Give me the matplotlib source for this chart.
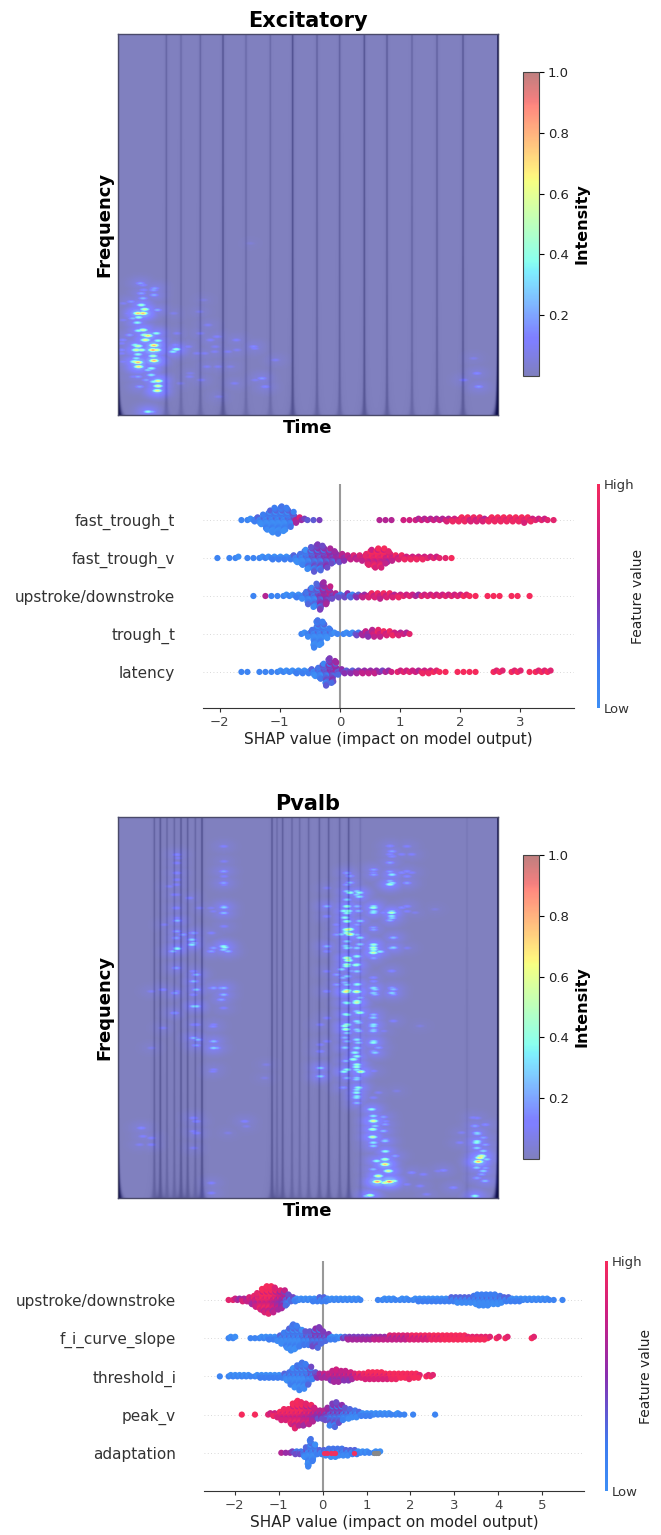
import numpy as np
import matplotlib
matplotlib.use("Agg")
import matplotlib.pyplot as plt
from matplotlib.colors import LinearSegmentedColormap, Normalize
from matplotlib.cm import ScalarMappable

W, H = 661, 1535

# spectrogram dark lines: time (0-1140 across the axes) and depth
ex_line_t = [145, 189, 247, 315, 384, 457, 524, 597, 665, 739, 807, 882, 957, 1035]
ex_line_d = [.3, .25, .3, .5, .25, .25, .55, .35, .35, .5, .4, .3, .35, .45]
pv_line_t = [109, 127, 147, 169, 189, 209, 232, 252, 462, 477, 494, 522, 545, 572, 604, 632, 665, 692, 727, 1047]
pv_line_d = [.35, .45, .3, .3, .45, .4, .3, .55, .45, .25, .4, .3, .25, .3, .35, .4, .3, .45, .15, .1]

ex_spots_a = [
    (75,130,.78),(60,130,.75),(80,118,.55),(70,105,.45),(62,142,.42),(58,158,.38),
    (75,180,.55),(62,182,.4),(90,197,.72),(82,210,.65),(80,195,.5),
    (60,228,.55),(55,240,.6),(70,240,.5),(60,253,.4),(60,277,.8),(50,275,.55),(62,290,.7),(55,265,.35),(52,225,.4),
    (108,226,.8),(105,240,.85),(115,240,.65),(108,272,.8),(105,258,.5),(115,190,.4),(120,212,.4),(100,295,.4),(100,315,.35),
    (120,333,.65),(120,348,.6),(118,362,.65),(108,335,.4),
    (118,120,.22),(75,85,.25),(70,70,.2),(110,55,.2),(75,45,.15),(108,75,.22),
    (40,95,.18),(30,130,.12),(15,210,.15),(12,240,.15),(35,195,.2),(45,145,.25),
    (65,350,.2),(85,330,.2),(90,300,.3),(60,320,.2),(90,425,.4),(100,425,.25),
    (175,238,.45),(165,245,.35),(172,225,.15),
    (270,165,.1),(245,125,.08),(300,200,.1),(290,245,.1),(355,210,.12),(330,245,.1),(210,230,.12),(215,320,.1),
    (410,235,.12),(430,325,.12),(440,350,.08),(350,340,.1),(260,250,.1),(300,290,.1),(250,330,.1),
]
ex_spots_b = [
    (360,1020,.12),(380,1010,.12),(490,1040,.15),(515,1135,.18),(525,1160,.15),(1160,1120,.15),(1165,1160,.18),
    (1120,1140,.12),(1150,1075,.08),(440,1050,.1),(555,1080,.1),(480,730,.04),
    (100,910,.1),(125,905,.12),(100,960,.1),(95,1030,.12),(95,1060,.12),(100,1085,.12),(130,1130,.12),(150,850,.2),
    (190,870,.2),(160,870,.15),(250,940,.08),(260,1000,.1),(340,900,.06),(330,1000,.1),(375,1040,.1),(320,1060,.1),
    (350,1100,.1),(385,1190,.08),(300,1120,.08),(270,1150,.08),(420,1100,.08),(495,1140,.1),
]
pv_spots_low = [
    (100,330,.62),(100,315,.35),(95,295,.4),(105,345,.3),(98,355,.5),(98,378,.55),(100,395,.35),(100,405,.3),
    (130,318,.2),(135,340,.2),(130,360,.25),(135,390,.3),
    (135,445,.5),(135,460,.75),(110,450,.4),(145,480,.6),(115,495,.6),(112,512,.85),(148,512,.92),(135,515,.6),
    (160,510,.5),(90,553,.5),(80,555,.3),(100,475,.25),(165,435,.2),
    (420,440,.7),(415,452,.8),(425,435,.6),(410,395,.4),(412,368,.3),(430,380,.2),(405,345,.2),(430,420,.3),
    (430,480,.3),(425,490,.2),(410,470,.3),(435,510,.25),(405,555,.4),(440,445,.3),(400,320,.12),(360,395,.12),(365,365,.1),
    (215,485,.15),(250,490,.12),(310,478,.15),(200,520,.12),(240,525,.12),(340,530,.15),(260,550,.1),(295,480,.1),
    (15,45,.45),(18,55,.5),(58,5,.45),(55,35,.3),(55,60,.3),(55,95,.3),(45,125,.4),(40,145,.45),(50,168,.45),
    (62,182,.55),(12,182,.4),(18,150,.25),(15,110,.3),(15,80,.25),(50,205,.3),(55,230,.42),(50,245,.4),(50,260,.35),(10,230,.18),
    (100,20,.3),(100,45,.35),(100,60,.3),(100,95,.4),(105,125,.3),(115,110,.2),(100,180,.12),(100,260,.12),(115,245,.1),
    (160,30,.12),(130,60,.1),(240,45,.06),(170,240,.07),
]
pv_spots_mid = [
    (30,135,.2),(30,155,.25),(30,185,.42),(58,185,.4),(58,197,.35),(25,240,.42),(12,240,.4),(15,260,.4),
    (28,295,.6),(30,310,.62),(20,300,.4),(60,270,.3),(55,240,.25),(5,310,.3),(60,320,.35),(30,350,.25),(60,340,.3),(18,345,.3),
    (25,388,.55),(50,375,.3),(48,402,.45),(20,405,.45),(5,415,.3),(35,420,.2),
    (18,482,.68),(50,482,.6),(15,455,.25),(52,460,.4),(50,515,.55),(18,515,.35),(60,545,.45),(18,550,.4),(10,440,.25),(60,500,.25),
    (100,230,.45),(100,245,.35),(100,350,.5),(100,365,.55),(120,362,.35),(155,245,.5),(155,255,.35),(150,268,.25),(160,350,.3),
    (150,150,.25),(150,160,.45),(150,122,.2),(150,95,.2),(150,70,.15),(150,45,.15),(185,125,.15),(215,125,.12),(185,70,.12),(215,70,.12),
    (185,230,.15),(100,125,.15),(100,290,.2),(130,245,.15),(160,320,.25),(105,475,.3),(105,490,.25),(160,475,.25),(160,490,.2),
    (100,555,.2),(100,440,.15),(155,420,.15),(285,235,.06),(225,245,.08),
]
pv_spots_left = [
    (178,392,.38),(165,400,.25),(178,308,.25),(175,360,.2),(195,350,.2),(222,365,.3),(222,380,.35),(222,345,.15),
    (175,270,.15),(170,230,.12),(175,200,.12),(175,165,.12),(180,120,.1),(155,205,.1),(215,240,.12),(140,320,.1),(245,270,.1),
    (318,268,.3),(318,285,.25),(320,388,.4),(330,400,.25),(280,400,.2),(280,345,.12),(318,325,.12),(318,160,.18),(318,175,.12),
    (318,200,.12),(318,130,.1),(318,85,.08),(280,270,.1),
    (175,450,.2),(235,470,.25),(235,515,.28),(230,490,.2),(172,525,.2),(135,515,.15),(235,565,.32),(170,585,.18),(310,545,.2),
    (310,510,.2),(280,510,.12),(285,625,.15),(295,690,.22),(285,670,.18),(285,760,.12),(240,665,.25),(235,682,.2),(235,620,.15),
    (135,630,.1),(100,690,.08),(100,520,.1),
    (70,930,.15),(75,955,.12),(100,960,.12),(100,980,.12),(235,910,.15),(235,945,.15),(380,910,.13),(385,925,.08),
    (445,740,.07),(440,780,.07),(280,1095,.12),(280,1125,.12),(65,980,.1),(330,945,.07),
]
# more Pvalb bars, per time column: x, then heights and intensities
pv_columns = [
    (770, [265,300,320,345,365,385,410,435,445,470,490,520,540,575,600,618,655,690,720,745,770,855,880],
          [.2,.2,.3,.3,.45,.4,.45,.6,.5,.3,.35,.55,.5,.3,.3,.6,.4,.4,.45,.3,.25,.4,.25]),
    (800, [320,330,365,420,450,490,515,540,560,600,620,650,680,710,735,765,790,815,840,855,880,915,935,955],
          [.3,.3,.25,.2,.25,.3,.4,.4,.3,.35,.4,.5,.3,.35,.3,.35,.35,.4,.45,.35,.3,.35,.35,.25]),
    (850, [255,270,365,380,435,480,495,520,590,610,625,690,720,735,770,800],
          [.2,.2,.35,.35,.2,.45,.45,.2,.15,.35,.3,.25,.35,.25,.35,.2]),
    (905, [200,215,270,295,380,400,490,610,625], [.2,.15,.35,.35,.3,.3,.25,.2,.3]),
    (950, [185,260,275,295,365,380,490], [.12,.15,.15,.2,.15,.12,.1]),
    (710, [310,365,395,485,500,560,620,700,770], [.1,.25,.15,.25,.15,.12,.15,.12,.12]),
    (690, [720,780,800,850,875], [.12,.12,.15,.3,.3]),
    (740, [420,450,570,600], [.15,.2,.2,.2]),
    (260, [210,235,265,285,330,400,440,490,550,620], [.15,.12,.15,.12,.1,.12,.2,.3,.12,.12]),
    (310, [445,475,560,590,630,665,720,760,1000,1040,1090], [.2,.25,.15,.25,.15,.3,.12,.25,.15,.12,.1]),
    (400, [185,260,295,365,385,485,495,610,630,670], [.12,.2,.2,.2,.25,.4,.3,.25,.25,.12]),
    (370, [380,490,610,720,770,790,855], [.1,.2,.2,.12,.25,.3,.12]),
    (885, [1010,1065,1100], [.15,.2,.4]),
    (1160, [1000,1045,1070,1090,1180], [.12,.3,.4,.3,.2]),
    (1185, [1020,1080,1150], [.15,.2,.2]),
]

# beeswarm rows: points per 0.1 wide SHAP bin, and feature value 0-9 of each bin
ex_features = ["fast_trough_t", "fast_trough_v", "upstroke/downstroke", "trough_t", "latency"]
ex_bin_start = -2.1
ex_counts = [
    [0,0,0,0,0,1,2,4,8,15,  19,21,18,12,5,2,1,1,1,0,  0,0,0,0,0,0,0,0,1,1,  1,0,1,1,2,2,2,2,2,3,
     3,4,4,4,4,3,4,4,4,4,  4,4,5,3,2,2,1,1,0,0],
    [0,1,0,1,2,0,1,1,2,2,  3,3,3,4,7,12,17,21,19,15,  10,7,5,4,4,6,12,15,15,10,  5,4,3,3,3,3,2,2,1,1,
     1,0,0,0,0,0,0,0,0,0,  0,0,0,0,0,0,0,0,0,0],
    [0,0,0,0,0,0,0,1,0,1,  1,1,2,2,3,6,13,18,21,14,  5,3,4,3,3,3,4,4,5,4,  3,3,2,2,2,2,2,2,2,2,
     2,2,2,1,1,0,1,1,1,0,  1,1,0,1,0,0,0,0,0,0],
    [0,0,0,0,0,0,0,0,0,0,  0,0,0,0,0,2,6,21,18,8,  2,1,2,2,3,4,6,6,5,4,  3,3,2,1,0,0,0,0,0,0,
     0,0,0,0,0,0,0,0,0,0,  0,0,0,0,0,0,0,0,0,0],
    [0,0,0,0,0,1,1,0,1,1,  1,2,2,2,3,3,4,7,12,21,  17,5,3,3,3,3,3,3,2,2,  1,2,2,2,2,3,3,2,1,1,
     0,1,1,1,1,0,0,2,2,0,  2,2,0,1,2,2,2,0,0,0],
]
ex_values = [
    [1,1,1,1,1,1,1,1,1,1,  1,1,1,2,6,5,3,3,4,4,  4,4,4,4,4,4,4,4,6,6,  6,6,7,7,7,7,7,7,7,7,
     8,8,8,7,7,7,8,8,8,8,  8,8,8,8,8,8,8,8,8,8],
    [1,1,1,1,1,1,1,1,1,1,  1,1,1,1,1,1,2,3,3,4,  4,5,5,6,6,7,8,8,8,7,  7,7,8,8,8,8,8,8,8,8,
     9,9,9,9,9,9,9,9,9,9,  9,9,9,9,9,9,9,9,9,9],
    [1,1,1,1,1,1,1,1,1,6,  1,1,1,1,1,1,2,2,4,5,  4,3,3,2,4,6,7,7,7,7,  7,8,8,8,6,8,8,8,8,8,
     8,8,9,9,9,9,9,9,9,9,  9,9,9,9,9,9,9,9,9,9],
    [1,1,1,1,1,1,1,1,1,1,  1,1,1,1,1,1,1,1,1,1,  1,1,1,1,3,5,5,7,7,7,  8,7,7,8,8,8,8,8,8,8,
     8,8,8,8,8,8,8,8,8,8,  8,8,8,8,8,8,8,8,8,8],
    [1,1,1,1,1,1,1,1,1,1,  1,1,1,1,1,1,1,1,2,3,  4,3,4,4,5,6,6,6,5,6,  7,8,8,8,7,8,8,9,9,9,
     9,9,9,9,9,9,9,9,9,9,  9,9,9,9,9,9,9,9,9,9],
]

pv_features = ["upstroke/downstroke", "f_i_curve_slope", "threshold_i", "peak_v", "adaptation"]
pv_bin_start = -2.4
pv_counts = [
    [0,0,0,1,2,2,3,4,7,11,  16,20,21,19,15,14,9,4,3,2,  2,2,3,4,4,3,2,2,2,2,  2,2,2,1,0,0,0,1,2,2,
     2,1,2,2,1,2,3,3,3,3,  3,3,3,4,4,5,5,5,6,8,  9,9,9,8,7,5,4,3,3,3,  2,2,2,2,2,2,1,1,0,1],
    [0,0,0,2,2,0,0,0,1,1,  2,2,3,3,5,9,15,20,18,13,  11,11,14,16,10,6,3,3,2,2,  3,3,3,3,3,3,3,3,3,4,
     4,4,4,4,4,4,4,4,4,4,  4,4,4,4,4,4,4,3,3,3,  3,3,2,0,2,0,2,0,0,0,  0,0,2,0,0,0,0,0,0,0],
    [0,1,0,2,2,2,2,2,1,2,  3,3,3,3,3,4,7,13,17,21,  19,14,6,4,4,4,8,10,9,8,  7,5,4,4,6,6,6,6,5,5,
     5,5,4,4,5,4,3,0,2,2,  0,0,0,0,0,0,0,0,0,0,  0,0,0,0,0,0,0,0,0,0,  0,0,0,0,0,0,0,0,0,0],
    [0,0,0,0,0,0,1,0,0,1,  0,0,2,3,5,9,9,16,21,18,  17,15,11,7,7,10,17,19,14,10,  8,6,5,3,3,3,2,2,2,2,
     1,2,1,1,0,1,0,0,0,0,  1,0,0,0,0,0,0,0,0,0,  0,0,0,0,0,0,0,0,0,0,  0,0,0,0,0,0,0,0,0,0],
    [0,0,0,0,0,0,0,0,0,0,  0,0,0,0,0,1,1,2,3,3,  8,21,13,4,4,6,7,7,6,5,  5,4,3,2,2,1,2,2,0,0,
     0,0,0,0,0,0,0,0,0,0,  0,0,0,0,0,0,0,0,0,0,  0,0,0,0,0,0,0,0,0,0,  0,0,0,0,0,0,0,0,0,0],
]
pv_values = [
    [8,8,8,8,8,6,7,6,7,7,  8,8,8,7,6,5,3,2,1,1,  1,1,1,1,1,1,1,1,1,1,  1,1,1,1,1,1,1,1,1,1,
     1,1,1,1,1,1,1,1,1,1,  1,1,1,1,1,1,1,1,1,1,  1,1,1,1,1,1,1,1,1,1,  1,1,1,1,1,1,1,1,1,1],
    [1,1,1,1,1,1,1,1,1,1,  1,1,1,1,1,1,1,1,1,1,  2,2,3,3,3,3,1,1,1,4,  5,5,5,5,5,5,6,6,6,6,
     6,6,6,6,7,7,7,7,7,8,  8,8,9,9,9,9,9,9,9,9,  9,9,9,9,9,9,9,9,9,9,  9,9,9,9,9,9,9,9,9,9],
    [1,1,1,1,1,1,1,1,1,1,  1,1,1,1,1,1,1,1,1,1,  1,2,2,4,5,5,6,6,6,6,  6,6,7,7,8,8,8,8,8,8,
     9,9,9,9,9,9,9,9,9,9,  9,9,9,9,9,9,9,9,9,9,  9,9,9,9,9,9,9,9,9,9,  9,9,9,9,9,9,9,9,9,9],
    [9,9,9,9,9,9,9,9,9,9,  9,9,8,8,8,8,8,8,8,8,  7,7,6,5,5,4,3,3,3,2,  2,1,1,1,1,1,1,1,1,1,
     1,1,1,1,1,1,1,1,1,1,  1,1,1,1,1,1,1,1,1,1,  1,1,1,1,1,1,1,1,1,1,  1,1,1,1,1,1,1,1,1,1],
    [5,5,5,5,5,5,5,5,5,5,  5,5,5,5,5,6,5,5,3,3,  2,1,1,1,1,1,1,1,1,1,  1,1,1,1,1,1,1,1,1,1,
     1,1,1,1,1,1,1,1,1,1,  1,1,1,1,1,1,1,1,1,1,  1,1,1,1,1,1,1,1,1,1,  1,1,1,1,1,1,1,1,1,1],
]
# the few red and grey points sitting on the blue adaptation row
adapt_red_x = [0.03, 0.1, 0.2, 0.25, 0.28, 0.72]
adapt_grey_x = [1.18, 1.22, 1.26]

shap_cmap = LinearSegmentedColormap.from_list(
    "shap_rb", [(0, "#3d8ef5"), (.2, "#3d7cf0"), (.5, "#8a2fb0"), (.78, "#cf1f80"), (1, "#f52a5c")])


def px_axes(fig, left, top, right, bottom):
    return fig.add_axes([left / W, 1 - bottom / H, (right - left) / W, (bottom - top) / H])


def build_maps(line_t, line_d, spot_groups):
    tt, ff = np.meshgrid(np.arange(380) * 3 + 1.5, np.arange(381) * 3 + 1.5)
    base = np.ones(tt.shape)
    for t0, d in zip(line_t, line_d):
        core = 2 + 6 / (1 + ff / 15)
        halo = 5 + 12 / (1 + ff / 60)
        base -= .55 * d * np.exp(-(tt - t0) ** 2 / (2 * core ** 2))
        base -= .08 * d * np.exp(-(tt - t0) ** 2 / (2 * halo ** 2))
    for t0 in [0, 1140]:
        edge = 1.5 + 8 / (1 + ff / 25)
        base -= np.exp(-(tt - t0) ** 2 / (2 * edge ** 2))
    base = np.clip(base, 0, 1)

    heat = np.zeros(tt.shape)
    for spots, t_off, f_off in spot_groups:
        for x, y, v in spots:
            d2t = (tt - (t_off + x)) ** 2
            d2f = (ff - (f_off - y)) ** 2
            # bright bar with a dim blue glow round it
            heat = np.maximum(heat, v * np.exp(-(d2t / (2 * 10.0 ** 2) + d2f / (2 * 3.8 ** 2))))
            heat = np.maximum(heat, .28 * v * np.exp(-(d2t / (2 * 26.0 ** 2) + d2f / (2 * 15.0 ** 2))))
    return base, heat


def draw_map(fig, top, title, base, heat):
    ax = px_axes(fig, 118, top, 498, top + 381)
    ax.imshow(base, cmap="gray", vmin=0, vmax=1, origin="lower", aspect="auto", interpolation="bilinear")
    im = ax.imshow(heat, cmap="jet", alpha=.5, vmin=0, vmax=1, origin="lower", aspect="auto", interpolation="bilinear")
    ax.set_xticks([])
    ax.set_yticks([])
    for s in ax.spines.values():
        s.set_color("#4a4a6a")
        s.set_linewidth(1)
    ax.set_title(title, fontsize=15, fontweight="bold", pad=5)
    ax.set_xlabel("Time", fontsize=13, fontweight="bold", labelpad=3)
    ax.set_ylabel("Frequency", fontsize=13, fontweight="bold", labelpad=3)

    cax = px_axes(fig, 523, top + 38, 539, top + 342)
    cb = fig.colorbar(im, cax=cax, ticks=[.2, .4, .6, .8, 1.0])
    cb.ax.tick_params(labelsize=9.5, length=3.5, width=.8, pad=3, labelcolor="#222222")
    cb.outline.set_edgecolor("#444444")
    cb.set_label("Intensity", fontsize=11.5, fontweight="bold", labelpad=4)


def draw_swarm(fig, box, xlim, ylim, features, start, counts, values, xticks, cbar_x, ypad):
    left, top, right, bottom = box
    ax = px_axes(fig, left, top, right, bottom)
    mottle = [0, -2, 1, 3, -1, 2, -3, 1, -1, 2]
    spread = [-.04, .01, -.02, .03, -.03, .04, -.01, .02]
    n_rows = len(features)
    ax.axvline(0, color="#999999", lw=1.5, zorder=1)
    for r in range(n_rows):
        row_y = n_rows - 1 - r
        ax.axhline(row_y, color="#cccccc", lw=.6, ls=(0, (1, 3)), zorder=0)
        xs, ys, cs = [], [], []
        for i, n in enumerate(counts[r]):
            for k in range(n):
                off = (k + 1) // 2 * (1 if k % 2 else -1)
                xs.append(start + .1 * i + spread[k % 8])
                ys.append(row_y + off * .036)
                cs.append(np.clip((values[r][i] + mottle[k % 10] * .55) / 9, 0, 1))
        ax.scatter(xs, ys, c=cs, cmap=shap_cmap, vmin=0, vmax=1, s=20, lw=0, zorder=3)
    ax.set_xlim(*xlim)
    ax.set_ylim(*ylim)
    ax.set_yticks(range(n_rows))
    ax.set_yticklabels(features[::-1], fontsize=11, color="#333333")
    ax.tick_params(axis="y", length=0, pad=ypad)
    ax.set_xticks(xticks)
    ax.tick_params(axis="x", labelsize=9.5, labelcolor="#444444", length=3, width=.8, color="#333333", pad=3)
    for s in ["top", "left", "right"]:
        ax.spines[s].set_visible(False)
    ax.spines["bottom"].set_color("#333333")
    ax.set_xlabel("SHAP value (impact on model output)", fontsize=11, color="#222222", labelpad=2)

    cax = px_axes(fig, cbar_x, top, cbar_x + 3, bottom)
    sm = ScalarMappable(norm=Normalize(0, 1), cmap=shap_cmap)
    cb = fig.colorbar(sm, cax=cax, ticks=[0, 1])
    cb.set_ticklabels(["Low", "High"])
    cb.ax.tick_params(labelsize=9.5, length=0, pad=3, labelcolor="#333333")
    cb.outline.set_visible(False)
    cb.set_label("Feature value", fontsize=10, color="#222222", labelpad=-3)
    return ax


fig = plt.figure(figsize=(W / 100, H / 100), dpi=100)

base, heat = build_maps(ex_line_t, ex_line_d, [(ex_spots_a, 0, 435), (ex_spots_b, -83, 1245)])
draw_map(fig, 34, "Excitatory", base, heat)

pv_spots_cols = []
for x, heights, ints in pv_columns:
    pv_spots_cols += [(x, y, v) for y, v in zip(heights, ints)]
base, heat = build_maps(pv_line_t, pv_line_d, [(pv_spots_low, 666, 561), (pv_spots_mid, 666, 1101),
                                               (pv_spots_left, 0, 1140), (pv_spots_cols, -83, 1240)])
draw_map(fig, 817, "Pvalb", base, heat)

draw_swarm(fig, (203, 484, 574, 708), (-2.28, 3.9), (-.95, 4.95), ex_features, ex_bin_start, ex_counts, ex_values,
           [-2, -1, 0, 1, 2, 3], 597, 20)
ax2 = draw_swarm(fig, (204, 1261, 584, 1491), (-2.70, 5.95), (-1, 5.02), pv_features, pv_bin_start, pv_counts, pv_values,
                 [-2, -1, 0, 1, 2, 3, 4, 5], 605, 20)
ax2.scatter(adapt_red_x, [0] * len(adapt_red_x), color="#f0305f", s=14, lw=0, zorder=4)
ax2.scatter(adapt_grey_x, [0] * len(adapt_grey_x), color="#888888", s=14, lw=0, zorder=4)

fig.savefig("out.png", dpi=100)
